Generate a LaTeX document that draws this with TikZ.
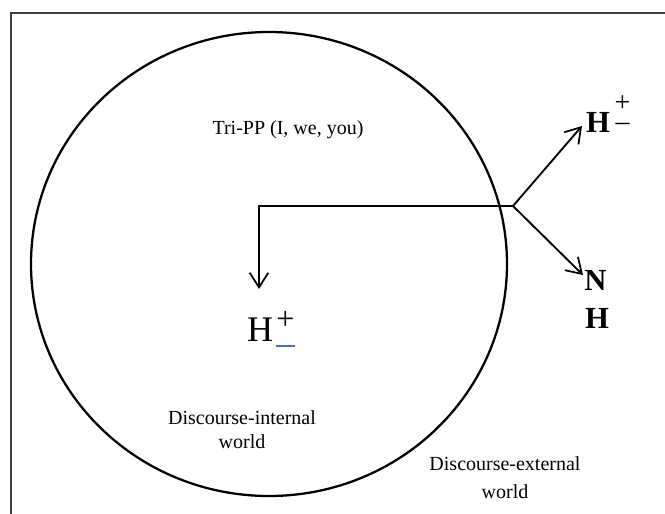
\documentclass[tikz,border=0pt]{standalone}
\usepackage{fontspec}
\setmainfont{Liberation Serif}
\usetikzlibrary{arrows.meta,shapes.geometric}
\begin{document}
\begin{tikzpicture}[x=0.75pt,y=-0.75pt,
  arr/.style={line width=1.4pt,-{Straight Barb[length=11pt,width=14pt,line width=1.3pt]}},
  lbl/.style={font=\fontsize{15}{18}\selectfont, inner sep=0pt, align=center},
  bigH/.style={font=\fontsize{27}{30}\selectfont, inner sep=0pt},
  boldH/.style={font=\fontsize{23}{26}\selectfont\bfseries, inner sep=0pt},
  sgn/.style={font=\fontsize{21}{14.25}\selectfont, inner sep=0pt, align=center}]
\useasboundingbox (0,0) rectangle (665,514);
\draw[line width=1pt, black!75] (11,514) -- (11,13) -- (665,13);
\node (world) [draw, ellipse, line width=1.7pt, minimum width=357pt, minimum height=348pt, inner sep=0pt] at (269,264) {};
% connectors
\coordinate (J) at (513,206);
\coordinate (S) at (259,206);
\coordinate (Sd) at (259,289);
\coordinate (up) at (582,126);
\coordinate (dn) at (583,275);
\draw[arr] (J) -- (S) -- (Sd);
\draw[arr] (J) -- (up);
\draw[arr] (J) -- (dn);
% texts
\node (tri) [lbl] at (288,130) {Tri-PP (I, we, you)};
\node (Hc) [bigH] at (260,330) {H};
\node (Hcp) [sgn, font=\fontsize{24}{26}\selectfont] at (285.5,320.5) {+};
\node (Hcb) [fill={rgb,255:red,74;green,112;blue,170}, minimum width=14pt, minimum height=1.8pt, inner sep=0pt] at (285.5,346) {};
\node (int) [lbl, font=\fontsize{15}{17.5}\selectfont] at (242,429.5) {Discourse-internal\\world};
\node (ext) [lbl, font=\fontsize{15}{21}\selectfont] at (505,478) {Discourse-external\\world};
\node (Hr) [boldH] at (598,122.5) {H};
\node (Hrs) [sgn] at (622.5,113.5) {+\\\textendash};
\node (N) [boldH] at (595.5,280) {N};
\node (Hn) [boldH] at (597,318) {H};
\end{tikzpicture}
\end{document}
